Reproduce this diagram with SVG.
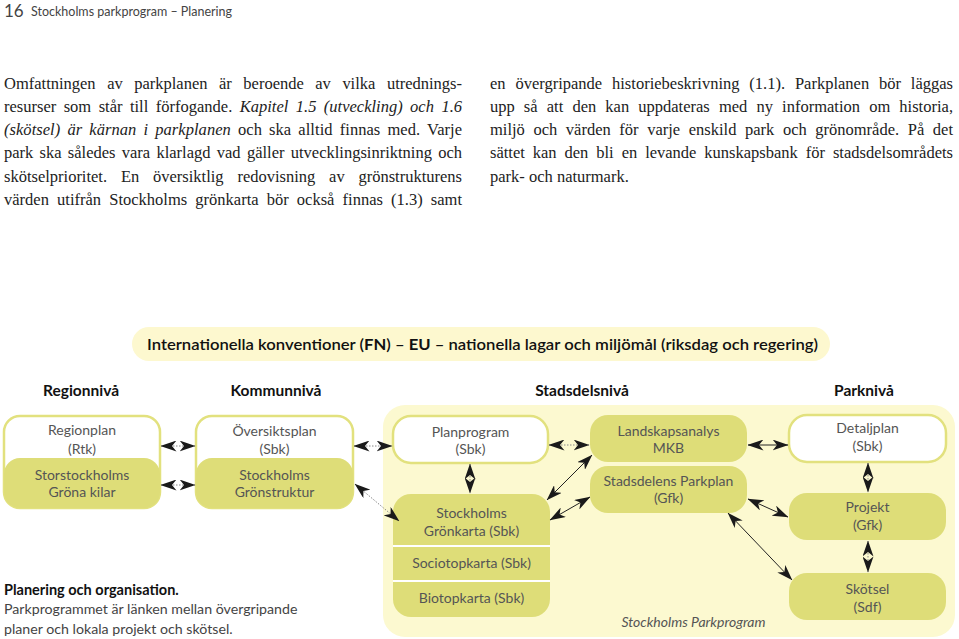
<svg xmlns="http://www.w3.org/2000/svg" width="959" height="639" viewBox="0 0 959 639">
<style>
.sans{font-family:Lato,"Open Sans","Liberation Sans",sans-serif}
.box{font-family:Lato,"Open Sans","Liberation Sans",sans-serif;font-size:14px;fill:#555;text-anchor:middle}
.head{font-family:Lato,"Open Sans","Liberation Sans",sans-serif;font-size:15.5px;font-weight:bold;fill:#111;text-anchor:middle}
.fill{fill:#dedd78}
.wbox{fill:#fff;stroke:#e2e17e;stroke-width:2.5}
.ln{stroke:#222;stroke-width:1;fill:none;marker-start:url(#ah);marker-end:url(#ah)}
.dl{stroke:#888;stroke-width:1;stroke-dasharray:1.5 1.5;fill:none;marker-start:url(#ah);marker-end:url(#ah)}
</style>
<defs>
<marker id="ah" viewBox="0 0 16 11" refX="15.5" refY="5.5" markerWidth="16" markerHeight="11" markerUnits="userSpaceOnUse" orient="auto-start-reverse">
<path d="M0,0 L16,5.5 L0,11 L4.5,5.5 Z" fill="#1a1a1a"/>
</marker>
</defs>
<rect width="959" height="639" fill="#fff"/>

<g id="page-header">
<text x="4" y="17" class="sans" font-size="17" fill="#444">16</text>
<text x="31" y="16" class="sans" font-size="12.5" fill="#444">Stockholms parkprogram – Planering</text>
</g>

<g id="body-text" font-family="'Liberation Serif', 'Times New Roman', serif" font-size="16.5" fill="#222">
<text x="4" y="88.5" word-spacing="7.4" textLength="458" lengthAdjust="spacing">Omfattningen av parkplanen är beroende av vilka utrednings-</text>
<text x="4" y="111.8" word-spacing="3.3" textLength="458" lengthAdjust="spacing">resurser som står till förfogande. <tspan font-style="italic">Kapitel 1.5 (utveckling) och 1.6</tspan></text>
<text x="4" y="135.1" word-spacing="3.0" textLength="458" lengthAdjust="spacing"><tspan font-style="italic">(skötsel) är kärnan i parkplanen</tspan> och ska alltid finnas med. Varje</text>
<text x="4" y="158.4" word-spacing="2.15" textLength="458" lengthAdjust="spacing">park ska således vara klarlagd vad gäller utvecklingsinriktning och</text>
<text x="4" y="181.7" word-spacing="9.7" textLength="458" lengthAdjust="spacing">skötselprioritet. En översiktlig redovisning av grönstrukturens</text>
<text x="4" y="205" word-spacing="4.0" textLength="458" lengthAdjust="spacing">värden utifrån Stockholms grönkarta bör också finnas (1.3) samt</text>
<text x="490" y="88.5" word-spacing="5.7" textLength="463" lengthAdjust="spacing">en övergripande historiebeskrivning (1.1). Parkplanen bör läggas</text>
<text x="490" y="111.8" word-spacing="5.0" textLength="463" lengthAdjust="spacing">upp så att den kan uppdateras med ny information om historia,</text>
<text x="490" y="135.1" word-spacing="4.5" textLength="463" lengthAdjust="spacing">miljö och värden för varje enskild park och grönområde. På det</text>
<text x="490" y="158.4" word-spacing="3.8" textLength="463" lengthAdjust="spacing">sättet kan den bli en levande kunskapsbank för stadsdelsområdets</text>
<text x="490" y="181.7">park- och naturmark.</text>
</g>

<g id="top-band">
<rect x="132" y="327" width="698" height="34" rx="17" fill="#fdf8cf"/>
<text x="147" y="349.5" class="sans" font-size="15" font-weight="600" fill="#111" textLength="671" lengthAdjust="spacingAndGlyphs">Internationella konventioner (<tspan font-weight="bold">FN</tspan>) – <tspan font-weight="bold">EU</tspan> – nationella lagar och miljömål (riksdag och regering)</text>
</g>

<g id="level-headings">
<text x="81" y="396" class="head">Regionnivå</text>
<text x="276" y="396" class="head">Kommunnivå</text>
<text x="582" y="396" class="head">Stadsdelsnivå</text>
<text x="864" y="396" class="head">Parknivå</text>
</g>

<g id="parkprogram-area">
<rect x="383" y="405" width="572" height="232" rx="22" fill="#fcf9d0"/>
<text x="693.5" y="627" class="box" font-style="italic">Stockholms Parkprogram</text>
</g>

<g id="node-region">
<rect x="4" y="416" width="156" height="92" rx="16" class="wbox"/>
<rect x="4" y="458" width="156" height="50" rx="16" class="fill"/>
<text x="82" y="435" class="box">Regionplan</text>
<text x="82" y="454" class="box">(Rtk)</text>
<text x="82" y="480" class="box">Storstockholms</text>
<text x="82" y="497" class="box">Gröna kilar</text>
</g>

<g id="node-kommun">
<rect x="196" y="416" width="157" height="92" rx="16" class="wbox"/>
<rect x="196" y="458" width="157" height="50" rx="16" class="fill"/>
<text x="274.5" y="436" class="box">Översiktsplan</text>
<text x="274.5" y="454" class="box">(Sbk)</text>
<text x="274.5" y="480" class="box">Stockholms</text>
<text x="274.5" y="497" class="box">Grönstruktur</text>
</g>

<g id="node-planprogram">
<rect x="393" y="416" width="155" height="47" rx="18" class="wbox"/>
<text x="470.5" y="437" class="box">Planprogram</text>
<text x="470.5" y="454" class="box">(Sbk)</text>
</g>

<g id="node-gronkarta">
<rect x="393" y="494" width="157" height="123" rx="18" class="fill"/>
<line x1="393" y1="546" x2="550" y2="546" stroke="#fff" stroke-width="2"/>
<line x1="393" y1="581" x2="550" y2="581" stroke="#fff" stroke-width="2"/>
<text x="471.5" y="518" class="box">Stockholms</text>
<text x="471.5" y="536" class="box">Grönkarta (Sbk)</text>
<text x="471.5" y="568" class="box">Sociotopkarta (Sbk)</text>
<text x="471.5" y="603" class="box">Biotopkarta (Sbk)</text>
</g>

<g id="node-landskapsanalys">
<rect x="590" y="415" width="157" height="47" rx="18" class="fill"/>
<text x="668.5" y="436" class="box">Landskapsanalys</text>
<text x="668.5" y="453" class="box">MKB</text>
</g>

<g id="node-parkplan">
<rect x="590" y="466" width="157" height="47" rx="18" class="fill"/>
<text x="668.5" y="486" class="box">Stadsdelens Parkplan</text>
<text x="668.5" y="503" class="box">(Gfk)</text>
</g>

<g id="node-detaljplan">
<rect x="789" y="415" width="157" height="47" rx="18" class="wbox"/>
<text x="867.5" y="433" class="box">Detaljplan</text>
<text x="867.5" y="451" class="box">(Sbk)</text>
</g>

<g id="node-projekt">
<rect x="789" y="493" width="157" height="47" rx="18" class="fill"/>
<text x="867.5" y="512" class="box">Projekt</text>
<text x="867.5" y="530" class="box">(Gfk)</text>
</g>

<g id="node-skotsel">
<rect x="789" y="573" width="157" height="47" rx="18" class="fill"/>
<text x="867.5" y="594" class="box">Skötsel</text>
<text x="867.5" y="612" class="box">(Sdf)</text>
</g>

<g id="connectors">
<line x1="161" y1="446" x2="195" y2="446" class="dl"/>
<line x1="161" y1="485" x2="195" y2="485" class="dl"/>
<line x1="354" y1="446" x2="392" y2="446" class="dl"/>
<line x1="355" y1="484" x2="399" y2="521" class="dl"/>
<line x1="470" y1="464" x2="470" y2="493" class="dl"/>
<line x1="549" y1="445" x2="589" y2="445" class="dl"/>
<line x1="547" y1="500" x2="592" y2="455" class="ln"/>
<line x1="550" y1="520" x2="590" y2="497" class="ln"/>
<line x1="748" y1="445" x2="788" y2="445" class="ln"/>
<line x1="748" y1="499" x2="788" y2="517" class="ln"/>
<line x1="728" y1="513" x2="792" y2="580" class="ln"/>
<line x1="868" y1="463" x2="868" y2="492" class="dl"/>
<line x1="868" y1="541" x2="868" y2="572" class="dl"/>
</g>

<g id="caption">
<text x="4" y="595" class="sans" font-size="14.5" font-weight="bold" fill="#111">Planering och organisation.</text>
<text x="4" y="614" class="sans" font-size="14.2" fill="#444">Parkprogrammet är länken mellan övergripande</text>
<text x="4" y="634" class="sans" font-size="14.2" fill="#444">planer och lokala projekt och skötsel.</text>
</g>
</svg>
